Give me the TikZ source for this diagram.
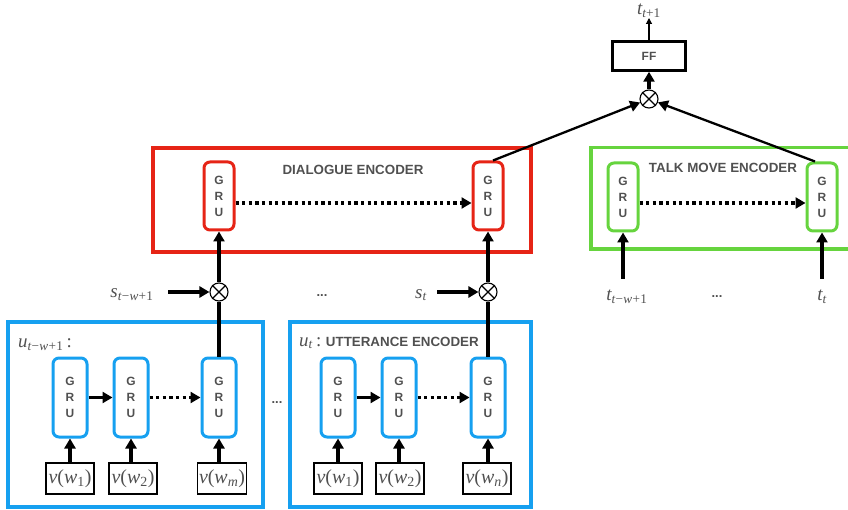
\documentclass[tikz,border=0pt]{standalone}
\usepackage{fontspec}
\newfontfamily\labfont{Liberation Sans}
\newfontfamily\mfont{Liberation Serif}
\usetikzlibrary{arrows.meta}
\definecolor{myred}{RGB}{230,36,22}
\definecolor{myblue}{RGB}{22,160,240}
\definecolor{mygreen}{RGB}{102,212,62}
\definecolor{txtgray}{RGB}{80,80,80}
\newcommand\twone{\itshape t\upshape\kern0.3pt−\kern0.3pt\itshape w\upshape\kern0.3pt+\kern0.3pt1}
\newcommand\vw[1]{{\itshape v}({\itshape w}\textsubscript{#1})}
\begin{document}
\begin{tikzpicture}[x=1bp,y=-1bp,
  gru/.style={draw=#1, line width=3bp, rounded corners=6bp, minimum width=30bp, minimum height=68bp, inner sep=0pt, align=center, text=txtgray, font=\labfont\bfseries\fontsize{12}{16}\selectfont},
  bgru/.style={gru=myblue, minimum width=34bp, minimum height=79bp},
  encbox/.style={draw=#1, line width=3.5bp, inner sep=0pt},
  enclabel/.style={text=txtgray, font=\labfont\bfseries\fontsize{13.4}{15}\selectfont, inner sep=0pt},
  mathlabel/.style={text=txtgray, font=\mfont\fontsize{19}{21}\selectfont, inner sep=0pt},
  vbox/.style={draw=black, line width=1.8bp, minimum width=48bp, minimum height=31bp, inner sep=1.5bp, text=txtgray, font=\mfont\fontsize{20}{22}\selectfont},
  otimes/.style={draw=black, line width=1.1bp, circle, minimum size=18bp, inner sep=0pt},
  arr/.style={line width=3.3bp, -{Triangle[length=10bp,width=11bp]}},
  darr/.style={line width=3.3bp, dash pattern=on 3.3bp off 3.3bp, -{Triangle[length=10bp,width=11bp]}},
  sarr/.style={line width=2.3bp, -{Triangle[length=10bp,width=11bp]}},
  thinarr/.style={line width=1.1bp, -{Triangle[length=6bp,width=6bp]}},
  dots/.style={text=txtgray, font=\labfont\bfseries\fontsize{13}{15}\selectfont, inner sep=0pt}
]
\useasboundingbox (0,0) rectangle (848,510);

% ---------- top ----------
\node[draw=black, line width=2.5bp, minimum width=73bp, minimum height=29bp, inner sep=0pt, text=txtgray, font=\labfont\bfseries\fontsize{12}{14}\selectfont] (ff) at (649,56) {FF};
\node[mathlabel] (tnext) at (649,11) {{\itshape t}\textsubscript{\itshape t\upshape+1}};
\node[otimes] (ot3) at (649,99) {};
\draw[line width=1.1bp] (ot3.45) -- (ot3.225) (ot3.135) -- (ot3.315);
\draw[thinarr] (ff.north) -- (tnext.south);
\draw[arr] (ot3.north) -- (ff.south);

% ---------- dialogue encoder ----------
\node[encbox=myred, minimum width=378bp, minimum height=104bp] (dialog) at (342,200) {};
\node[enclabel] (dlab) at (353,170) {DIALOGUE ENCODER};
\node[gru=myred] (rg1) at (219,196) {G\\R\\U};
\node[gru=myred] (rg2) at (488,196) {G\\R\\U};
\draw[darr] ([yshift=-7bp]rg1.east) -- ([yshift=-7bp]rg2.west);

% ---------- talk move encoder ----------
\node[encbox=mygreen, minimum width=280bp, minimum height=101bp, anchor=north west] (talk) at (589,146) {};
\node[enclabel] (tlab) at (723,168) {TALK MOVE ENCODER};
\node[gru=mygreen] (gg1) at (623,197) {G\\R\\U};
\node[gru=mygreen] (gg2) at (822,197) {G\\R\\U};
\draw[darr] ([yshift=-6bp]gg1.east) -- ([yshift=-6bp]gg2.west);

\draw[sarr] ([xshift=5bp]rg2.north) -- (ot3);
\draw[sarr] ([xshift=-7bp]gg2.north) -- (ot3);

\node[mathlabel] (tw) at (627,297) {{\itshape t}\textsubscript{\twone}};
\node[dots] (tdots) at (717,297) {...};
\node[mathlabel] (tt) at (822,297) {{\itshape t}\textsubscript{\itshape t}};
\coordinate (ta1) at (623,279);
\coordinate (ta2) at (822,279);
\draw[arr] (ta1) -- (gg1.south);
\draw[arr] (ta2) -- (gg2.south);

% ---------- otimes for dialogue inputs ----------
\node[otimes] (ot1) at (219,292) {};
\draw[line width=1.1bp] (ot1.45) -- (ot1.225) (ot1.135) -- (ot1.315);
\node[otimes] (ot2) at (488,292) {};
\draw[line width=1.1bp] (ot2.45) -- (ot2.225) (ot2.135) -- (ot2.315);
\node[mathlabel] (s1) at (132,295) {{\itshape s}\textsubscript{\twone}};
\node[mathlabel] (s2) at (421,295) {{\itshape s}\textsubscript{\itshape t}};
\node[dots] (sdots) at (322,296) {...};
\coordinate (sa1) at (168,292);
\coordinate (sa2) at (437,292);
\draw[arr] (sa1) -- (ot1);
\draw[arr] (sa2) -- (ot2);
\draw[arr] (ot1.north) -- (rg1.south);
\draw[arr] (ot2.north) -- (rg2.south);

% ---------- utterance encoder 1 ----------
\node[encbox=myblue, minimum width=255bp, minimum height=185bp] (ub1) at (135.5,414.5) {};
\node[mathlabel, anchor=west] (ul1) at (18,345) {{\itshape u}\textsubscript{\twone}\,:};
\node[bgru] (b1a) at (70,397.5) {G\\R\\U};
\node[bgru] (b1b) at (131,397.5) {G\\R\\U};
\node[bgru] (b1c) at (219,397.5) {G\\R\\U};
\node[vbox] (v1a) at (70,478.5) {\vw{1}};
\node[vbox] (v1b) at (133,478.5) {\vw{2}};
\node[vbox] (v1c) at (222,478.5) {\vw{\itshape m}};
\draw[arr] (b1a) -- (b1b);
\draw[darr] (b1b) -- (b1c);
\draw[arr] (b1a.south |- v1a.north) -- (b1a.south);
\draw[arr] (b1b.south |- v1b.north) -- (b1b.south);
\draw[arr] (b1c.south |- v1c.north) -- (b1c.south);
\draw[line width=3.3bp] (b1c.north) -- (ot1.south);

\node[dots] (udots) at (277,403) {...};

% ---------- utterance encoder 2 ----------
\node[encbox=myblue, minimum width=241bp, minimum height=185bp] (ub2) at (410.5,414.5) {};
\node[mathlabel, anchor=west] (ul2) at (299,343) {{\itshape u}\textsubscript{\itshape t}\,:\ {\labfont\bfseries\fontsize{13.4}{15}\selectfont UTTERANCE ENCODER}};
\node[bgru] (b2a) at (338,397.5) {G\\R\\U};
\node[bgru] (b2b) at (399,397.5) {G\\R\\U};
\node[bgru] (b2c) at (488,397.5) {G\\R\\U};
\node[vbox] (v2a) at (338,478.5) {\vw{1}};
\node[vbox] (v2b) at (400,478.5) {\vw{2}};
\node[vbox] (v2c) at (487,478.5) {\vw{\itshape n}};
\draw[arr] (b2a) -- (b2b);
\draw[darr] (b2b) -- (b2c);
\draw[arr] (b2a.south |- v2a.north) -- (b2a.south);
\draw[arr] (b2b.south |- v2b.north) -- (b2b.south);
\draw[arr] (b2c.south |- v2c.north) -- (b2c.south);
\draw[line width=3.3bp] (b2c.north) -- (ot2.south);
\end{tikzpicture}
\end{document}
